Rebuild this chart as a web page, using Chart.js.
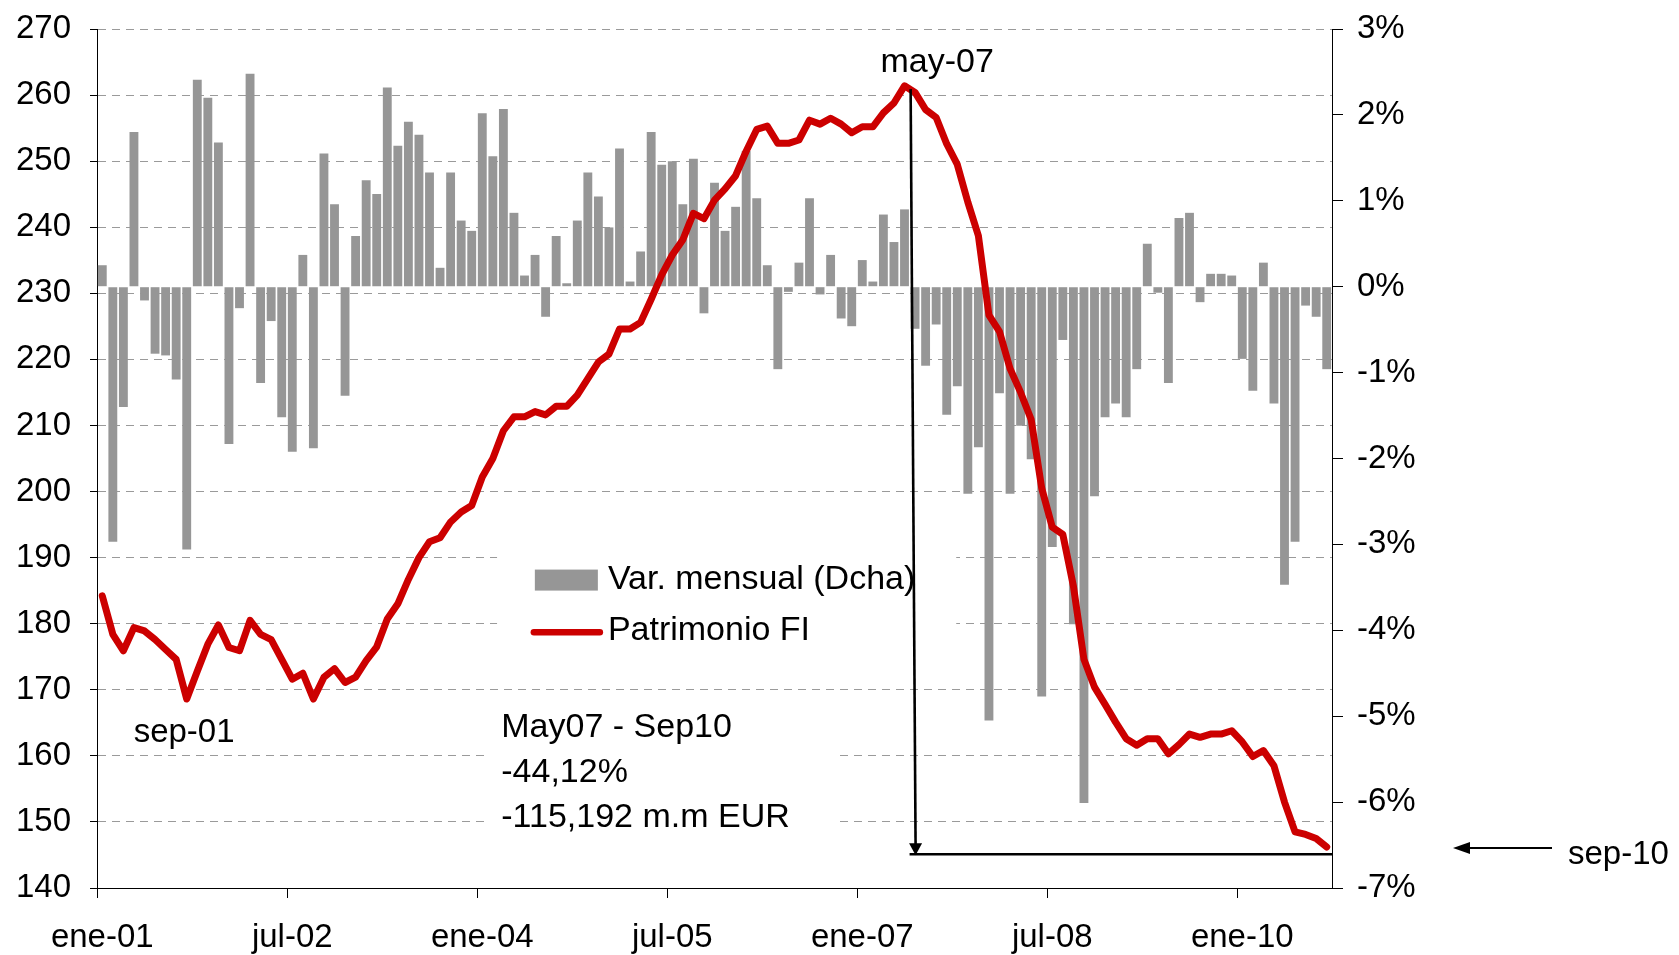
<!DOCTYPE html>
<html>
<head>
<meta charset="utf-8">
<script src="https://cdn.jsdelivr.net/npm/chart.js@4.4.0/dist/chart.umd.min.js"></script>
<style>
  html, body { margin: 0; padding: 0; background: #fff; }
  #wrap { position: relative; width: 1679px; height: 955px; }
</style>
</head>
<body>
<div id="wrap"><canvas id="patrimonioChart"></canvas></div>
<script>
// meses ene-01 .. sep-10
var nombresMes = ['ene', 'feb', 'mar', 'abr', 'may', 'jun', 'jul', 'ago', 'sep', 'oct', 'nov', 'dic'];
var anios = ['01', '02', '03', '04', '05', '06', '07', '08', '09', '10'];
var mesesUltimoAnio = 9;
var cadaTick = 18; // ene-01, jul-02, ene-04 ...

// Patrimonio FI (miles de millones EUR, eje izq.)
var patrimonio = [
  184.2, 178.4, 175.9, 179.4, 178.9, 177.6, 176.1, 174.6, 168.6, 172.8, 176.9, 179.8,
  176.4, 175.9, 180.5, 178.4, 177.6, 174.6, 171.6, 172.5, 168.6, 171.9, 173.2, 171.1,
  171.9, 174.4, 176.5, 180.7, 183.0, 186.7, 190.0, 192.4, 193.0, 195.4, 196.9, 197.9,
  202.2, 205.0, 209.2, 211.3, 211.3, 212.1, 211.6, 212.9, 212.9, 214.6, 217.1, 219.6,
  220.8, 224.6, 224.6, 225.6, 229.1, 232.8, 235.8, 238.1, 242.1, 241.3, 244.1, 245.8,
  247.8, 251.5, 254.8, 255.3, 252.7, 252.7, 253.2, 256.2, 255.6, 256.5, 255.6, 254.3,
  255.2, 255.2, 257.3, 258.8, 261.4, 260.4, 257.8, 256.6, 252.6, 249.5, 243.8, 238.7,
  226.7, 224.2, 218.6, 215.0, 210.9, 200.5, 194.6, 193.5, 185.7, 174.6, 170.4, 167.8,
  165.1, 162.6, 161.6, 162.6, 162.6, 160.3, 161.7, 163.3, 162.8, 163.3, 163.3, 163.8,
  162.1, 159.9, 160.8, 158.5, 153.0, 148.5, 148.1, 147.5, 146.2
];

// Var. mensual en % (eje dcha.)
var varMensual = [
  0.25, -2.97, -1.40, 1.80, -0.16, -0.78, -0.80, -1.08, -3.06, 2.41, 2.20, 1.68,
  -1.83, -0.25, 2.48, -1.12, -0.40, -1.52, -1.92, 0.37, -1.88, 1.55, 0.96, -1.27,
  0.59, 1.24, 1.08, 2.32, 1.64, 1.92, 1.77, 1.33, 0.22, 1.33, 0.77, 0.65,
  2.02, 1.52, 2.07, 0.86, 0.13, 0.37, -0.35, 0.59, 0.04, 0.77, 1.33, 1.05,
  0.69, 1.61, 0.06, 0.41, 1.80, 1.42, 1.46, 0.96, 1.49, -0.31, 1.21, 0.65,
  0.93, 1.58, 1.03, 0.25, -0.96, -0.06, 0.28, 1.03, -0.09, 0.37, -0.37, -0.46,
  0.31, 0.06, 0.84, 0.52, 0.90, -0.49, -0.92, -0.44, -1.49, -1.16, -2.41, -1.87,
  -5.05, -1.24, -2.41, -1.62, -2.01, -4.77, -3.03, -0.62, -3.93, -6.01, -2.44, -1.52,
  -1.36, -1.52, -0.96, 0.50, -0.07, -1.12, 0.80, 0.86, -0.18, 0.15, 0.15, 0.13,
  -0.84, -1.21, 0.28, -1.36, -3.47, -2.97, -0.22, -0.35, -0.96
];

// anotaciones
var idxPico = 76;      // may-07
var idxValle = 8;      // sep-01
var nivelSuelo = 145.1;
var resumen = ['May07 - Sep10', '-44,12%', '-115,192 m.m EUR'];

var meses = [];
for (var a = 0; a < anios.length; a++) {
  var n = (a == anios.length - 1) ? mesesUltimoAnio : 12;
  for (var m = 0; m < n; m++) {
    meses.push(nombresMes[m] + '-' + anios[a]);
  }
}

var fuente = '"Liberation Sans", Arial, sans-serif';
var gris = '#969696';
var rojo = '#cc0000';

var notas = {
  id: 'notas',
  beforeDatasetsDraw: function(chart) {
    // cajas blancas que tapan la rejilla detras del texto
    var c = chart.ctx, xs = chart.scales.x, ys = chart.scales.y;
    c.save();
    c.fillStyle = '#fff';
    var x0 = xs.getPixelForValue(37.4), x1 = xs.getPixelForValue(80.9);
    var y0 = ys.getPixelForValue(194.2), y1 = ys.getPixelForValue(174.5);
    c.fillRect(x0, y0, x1 - x0, y1 - y0);
    x0 = xs.getPixelForValue(36.6); x1 = xs.getPixelForValue(69.6);
    y0 = ys.getPixelForValue(169.2); y1 = ys.getPixelForValue(146.5);
    c.fillRect(x0, y0, x1 - x0, y1 - y0);
    c.restore();
  },
  afterDatasetsDraw: function(chart) {
    var c = chart.ctx, xs = chart.scales.x, ys = chart.scales.y;
    var area = chart.chartArea;
    c.save();

    // leyenda
    var lx0 = xs.getPixelForValue(40.98), lx1 = xs.getPixelForValue(46.95);
    var tx = xs.getPixelForValue(47.9);
    var r1 = ys.getPixelForValue(186.6);
    c.fillStyle = gris;
    c.fillRect(lx0, r1 - 10.5, lx1 - lx0, 21);
    var r2 = ys.getPixelForValue(178.7);
    c.strokeStyle = rojo;
    c.lineWidth = 6.5;
    c.lineCap = 'round';
    c.beginPath();
    c.moveTo(lx0 - 1, r2);
    c.lineTo(lx1 + 2, r2);
    c.stroke();
    c.fillStyle = '#000';
    c.font = '34px ' + fuente;
    c.textBaseline = 'alphabetic';
    c.textAlign = 'left';
    c.fillText(chart.data.datasets[1].label, tx, ys.getPixelForValue(185.3));
    c.fillText(chart.data.datasets[0].label, tx, ys.getPixelForValue(177.5));

    // resumen
    var rx = xs.getPixelForValue(37.8);
    var filas = [162.9, 156.0, 149.2];
    for (var i = 0; i < resumen.length; i++) {
      c.fillText(resumen[i], rx, ys.getPixelForValue(filas[i]));
    }

    // etiquetas pico y valle
    c.textAlign = 'center';
    c.fillText(meses[idxPico], xs.getPixelForValue(idxPico + 3.1), ys.getPixelForValue(263.5));
    c.font = '33px ' + fuente;
    c.fillText(meses[idxValle], xs.getPixelForValue(idxValle - 0.25), ys.getPixelForValue(162.1));

    // flecha vertical desde el pico
    var ax0 = xs.getPixelForValue(idxPico + 0.58), ay0 = ys.getPixelForValue(260.9);
    var ax1 = xs.getPixelForValue(idxPico + 1.05), ay1 = ys.getPixelForValue(144.95);
    c.strokeStyle = '#000';
    c.fillStyle = '#000';
    c.lineWidth = 2.6;
    c.lineCap = 'butt';
    c.beginPath();
    c.moveTo(ax0, ay0);
    c.lineTo(ax1, ay1 - 10);
    c.stroke();
    c.beginPath();
    c.moveTo(ax1, ay1);
    c.lineTo(ax1 - 6.5, ay1 - 12);
    c.lineTo(ax1 + 6.5, ay1 - 12);
    c.closePath();
    c.fill();

    // linea horizontal al nivel final
    var hy = ys.getPixelForValue(nivelSuelo);
    c.lineWidth = 2.4;
    c.beginPath();
    c.moveTo(ax1 - 6, hy);
    c.lineTo(area.right, hy);
    c.stroke();

    // flecha exterior sep-10
    var fy = ys.getPixelForValue(patrimonio[patrimonio.length - 1]) + 1;
    var fx0 = area.right + 121, fx1 = area.right + 220;
    c.lineWidth = 2;
    c.beginPath();
    c.moveTo(fx0 + 14, fy);
    c.lineTo(fx1, fy);
    c.stroke();
    c.beginPath();
    c.moveTo(fx0, fy);
    c.lineTo(fx0 + 17, fy - 6);
    c.lineTo(fx0 + 17, fy + 6);
    c.closePath();
    c.fill();
    c.textAlign = 'left';
    c.fillText(meses[meses.length - 1], area.right + 236, ys.getPixelForValue(143.7));

    c.restore();
  }
};

var ctx = document.getElementById('patrimonioChart').getContext('2d');

var chart = new Chart(ctx, {
  data: {
    labels: meses,
    datasets: [{
      type: 'line',
      label: 'Patrimonio FI',
      data: patrimonio,
      yAxisID: 'y',
      borderColor: rojo,
      borderWidth: 7,
      pointRadius: 0,
      tension: 0,
      borderJoinStyle: 'round',
      borderCapStyle: 'round',
      order: 0
    }, {
      type: 'bar',
      label: 'Var. mensual (Dcha)',
      data: varMensual,
      yAxisID: 'y2',
      backgroundColor: gris,
      categoryPercentage: 1,
      barPercentage: 0.84,
      order: 1
    }]
  },
  options: {
    responsive: true,
    maintainAspectRatio: false,
    animation: false,
    layout: { padding: { top: 29, left: 0, right: 0, bottom: 0 } },
    plugins: {
      legend: { display: false },
      tooltip: { enabled: false }
    },
    scales: {
      x: {
        type: 'category',
        offset: true,
        grid: {
          offset: true,
          drawOnChartArea: false,
          tickLength: 10,
          tickWidth: 1,
          tickColor: function(c) { return c.index % cadaTick === 0 ? '#000' : 'rgba(0,0,0,0)'; }
        },
        border: { color: '#000', width: 1 },
        ticks: {
          autoSkip: false,
          maxRotation: 0,
          minRotation: 0,
          padding: 20,
          color: '#000',
          font: { family: fuente, size: 33 },
          callback: function(v, i) { return i % cadaTick === 0 ? this.getLabelForValue(v) : ''; }
        },
        afterFit: function(s) { s.height = 67; }
      },
      y: {
        position: 'left',
        min: 140,
        max: 270,
        grid: {
          color: '#9a9a9a',
          lineWidth: 1,
          tickLength: 7,
          tickColor: '#000'
        },
        border: { color: '#000', width: 1, dash: [8, 6] },
        ticks: {
          stepSize: 10,
          padding: 19,
          color: '#000',
          font: { family: fuente, size: 33 }
        },
        afterFit: function(s) { s.width = 97; s.paddingTop = 0; s.paddingBottom = 0; }
      },
      y2: {
        position: 'right',
        min: -7,
        max: 3,
        grid: {
          drawOnChartArea: false,
          tickLength: 11,
          tickColor: '#000'
        },
        border: { color: '#000', width: 1 },
        ticks: {
          stepSize: 1,
          padding: 14,
          color: '#000',
          font: { family: fuente, size: 33 },
          callback: function(v) { return v + '%'; }
        },
        afterFit: function(s) { s.width = 347; s.paddingTop = 0; s.paddingBottom = 0; }
      }
    }
  },
  plugins: [notas]
});
</script>
</body>
</html>
